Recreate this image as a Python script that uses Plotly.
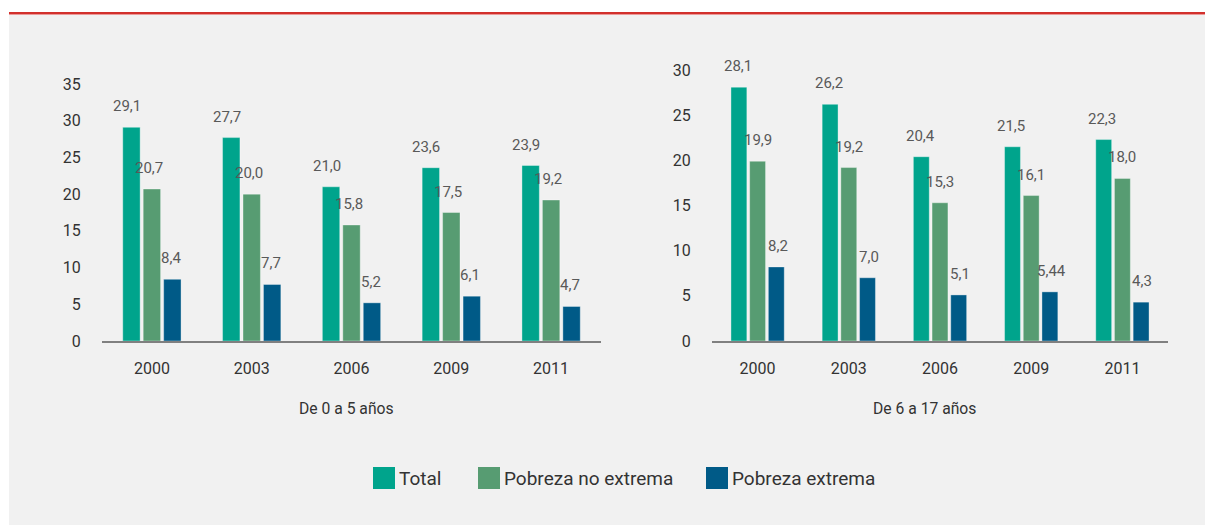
import plotly.graph_objects as go

# ---- data ----
years = ["2000", "2003", "2006", "2009", "2011"]
series_names = ["Total", "Pobreza no extrema", "Pobreza extrema"]
series_colors = ["#00a48c", "#579c72", "#005a87"]

young_total = [29.1, 27.7, 21.0, 23.6, 23.9]
young_no_extrema = [20.7, 20.0, 15.8, 17.5, 19.2]
young_extrema = [8.4, 7.7, 5.2, 6.1, 4.7]

older_total = [28.1, 26.2, 20.4, 21.5, 22.3]
older_no_extrema = [19.9, 19.2, 15.3, 16.1, 18.0]
older_extrema = [8.2, 7.0, 5.1, 5.44, 4.3]

panel_titles = ["De 0 a 5 años", "De 6 a 17 años"]
left_ticks = [0, 5, 10, 15, 20, 25, 30, 35]
right_ticks = [0, 5, 10, 15, 20, 25, 30]

W, H = 1205, 525
FONT = "Roboto, Liberation Sans, sans-serif"


def px(x):
    return x / W


def py(y):
    return 1 - y / H


def fmt(v):
    s = f"{v:.2f}".rstrip("0")
    if s.endswith("."):
        s += "0"
    return s.replace(".", ",")


fig = go.Figure()

panels = [
    ("x", "y", [young_total, young_no_extrema, young_extrema], [-25, -3, 19]),
    ("x2", "y2", [older_total, older_no_extrema, older_extrema], [-20, 0, 20]),
]

annotations = []
for xa, ya, data, shifts in panels:
    for name, color, vals, sh in zip(series_names, series_colors, data, shifts):
        fig.add_trace(go.Bar(
            x=years, y=vals, name=name, xaxis=xa, yaxis=ya,
            marker=dict(color=color, line=dict(color="rgba(255,255,255,0.35)", width=1)),
            showlegend=False,
        ))
        # value labels: x given as the category index on the category axis
        for i, v in enumerate(vals):
            annotations.append(dict(
                x=i, y=v, xref=xa, yref=ya, text=fmt(v), showarrow=False,
                xanchor="center", yanchor="bottom", xshift=sh, yshift=10,
                font=dict(family=FONT, size=15, color="#595959"),
            ))

# panel subtitles
for title, cx in zip(panel_titles, [346, 924]):
    annotations.append(dict(x=px(cx), y=py(408), xref="paper", yref="paper",
                            text=title, showarrow=False, xanchor="center", yanchor="middle",
                            font=dict(family=FONT, size=15.7, color="#333333")))

shapes = [
    dict(type="rect", xref="paper", yref="paper", x0=px(9), x1=1, y0=0, y1=py(15),
         fillcolor="#f1f1f1", line=dict(width=0), layer="below"),
    dict(type="rect", xref="paper", yref="paper", x0=px(9), x1=1, y0=py(14.3), y1=py(12),
         fillcolor="#d2302c", line=dict(width=0), layer="below"),
    dict(type="rect", xref="paper", yref="paper", x0=px(9), x1=1, y0=py(15), y1=py(14.3),
         fillcolor="#e88a88", line=dict(width=0), layer="below"),
]

# legend (manual, large swatches)
leg_sq = [373, 478, 706]
for name, color, x0 in zip(series_names, series_colors, leg_sq):
    shapes.append(dict(type="rect", xref="paper", yref="paper",
                       x0=px(x0), x1=px(x0 + 22), y0=py(489), y1=py(467),
                       fillcolor=color, line=dict(width=0)))
    annotations.append(dict(x=px(x0 + 24), y=py(478), xref="paper", yref="paper",
                            text=name, showarrow=False, xanchor="left", yanchor="middle",
                            font=dict(family=FONT, size=19, color="#333333")))

axis_common_x = dict(
    type="category", range=[-0.5, len(years) - 0.5], showgrid=False, zeroline=False,
    showline=True, linecolor="#808080", linewidth=1.5, ticks="outside", ticklen=12,
    tickcolor="rgba(0,0,0,0)", automargin=False,
    tickfont=dict(family=FONT, size=16, color="#333333"), fixedrange=True,
)
axis_common_y = dict(
    showgrid=False, zeroline=False, showline=False, ticks="outside", ticklen=17,
    tickcolor="rgba(0,0,0,0)", automargin=False,
    tickfont=dict(family=FONT, size=16, color="#333333"),
    fixedrange=True,
)

fig.update_layout(
    width=W, height=H,
    margin=dict(l=0, r=0, t=0, b=0, pad=0),
    paper_bgcolor="white", plot_bgcolor="rgba(0,0,0,0)",
    barmode="group", bargap=0.385, bargroupgap=0.15,
    showlegend=False,
    xaxis=dict(domain=[px(102), px(601)], anchor="y", **axis_common_x),
    yaxis=dict(domain=[py(341), py(84)], anchor="x", range=[0, 35],
               tickvals=left_ticks, **axis_common_y),
    xaxis2=dict(domain=[px(712), px(1168)], anchor="y2", **axis_common_x),
    yaxis2=dict(domain=[py(341), py(70)], anchor="x2", range=[0, 30],
                tickvals=right_ticks, **axis_common_y),
    shapes=shapes,
    annotations=annotations,
    font=dict(family=FONT),
)

fig.write_html("out.html", config={"displayModeBar": False},
               post_script="document.body.style.margin='0';")
